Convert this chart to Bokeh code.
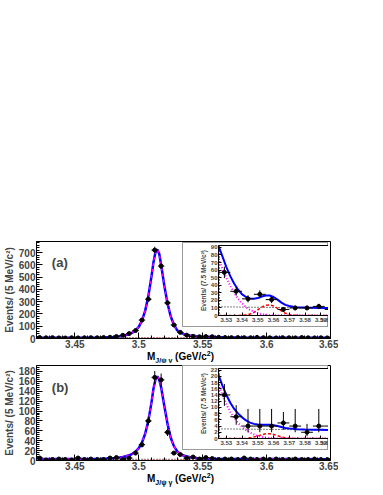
import numpy as np
from bokeh.plotting import figure
from bokeh.layouts import column
from bokeh.models import Spacer, FixedTicker, Label, Range1d, Div
from bokeh.embed import file_html
from bokeh.resources import INLINE

FONT = "Liberation Sans"

# ---------------- main panels: 5 MeV bins ----------------
bin_centers = 3.4225 + 0.005 * np.arange(46)
counts_a = [8, 6, 7, 5, 4, 6, 5, 6, 7, 6,
            8, 10, 16, 26, 40, 65, 150, 320, 720, 590,
            290, 110, 50, 27, 18, 14, 16, 15, 10, 8,
            7, 8, 7, 6, 9, 7, 6, 5, 7, 6,
            5, 8, 6, 5, 6, 5]
counts_b = [5, 1, 2, 3, 2, 1, 5, 2, 3, 2,
            2, 5, 6, 2, 5, 15, 32, 80, 168, 163,
            57, 15, 12, 5, 7, 3, 6, 4, 2, 3,
            3, 2, 5, 3, 2, 3, 2, 3, 2, 2,
            3, 2, 2, 3, 2, 2]

curve_x = [3.42, 3.43, 3.44, 3.45, 3.46, 3.47, 3.475, 3.48, 3.4825, 3.485,
           3.4875, 3.49, 3.4925, 3.495, 3.4975, 3.5, 3.5025, 3.505, 3.5075, 3.51,
           3.5115, 3.513, 3.5145, 3.516, 3.5175, 3.52, 3.5225, 3.525, 3.5275, 3.53,
           3.5325, 3.535, 3.54, 3.545, 3.55, 3.555, 3.56, 3.57, 3.58, 3.6,
           3.62, 3.65]
fit_a = [6, 6, 6, 6.5, 7, 8.5, 10, 13, 15, 18,
         22, 28, 36, 48, 66, 95, 145, 225, 345, 510,
         620, 700, 725, 690, 600, 430, 285, 180, 112, 68,
         48, 37, 25, 18, 15, 14, 12, 9, 8, 7,
         6.5, 6]
fit_b = [3, 3, 3, 3, 3.2, 3.6, 4, 4.8, 5.3, 6,
         7, 8.5, 10.5, 13.5, 18, 25, 36, 54, 80, 118,
         145, 163, 170, 164, 148, 110, 74, 46, 29, 19,
         13, 10, 6.5, 5, 4.2, 4, 3.6, 3.2, 3, 2.9,
         2.8, 2.7]
c2_x = [3.42, 3.54, 3.545, 3.55, 3.555, 3.56, 3.565, 3.57, 3.65]
c2_a = [0, 0, 1.5, 5, 9, 7, 3, 0.5, 0]
c2_b = [0, 0, 0.2, 0.6, 1.0, 0.8, 0.3, 0.05, 0]
bkg_x = [3.42, 3.65]
bkg_a = [6.5, 5.5]
bkg_b = [2.6, 2.4]

main_xticks = [3.45, 3.5, 3.55, 3.6, 3.65]
main_xlabels = ["3.45", "3.5", "3.55", "3.6", "3.65"]
yticks_a = [0, 100, 200, 300, 400, 500, 600, 700]
yticks_b = [0, 20, 40, 60, 80, 100, 120, 140, 160, 180]

# ---------------- insets: 7.5 MeV bins ----------------
ibin_centers = 3.52875 + 0.0075 * np.arange(10)
icounts_a = [57, 32, 22, 28, 21, 8, 10, 10, 12, 8]
icounts_b = [14, 7, 4, 4, 4, 5, 4, 2, 4, 4]
ierr_hi_b = [3.5, 3.7, 5.5, 5.5, 5.5, 3.5, 5.5, 2.7, 5.5, 5.5]
ierr_lo_b = [3.5, 2.6, 2.0, 2.0, 2.0, 2.2, 2.0, 1.3, 2.0, 2.0]

icurve_x = [3.525, 3.5275, 3.53, 3.5325, 3.535, 3.5375, 3.54, 3.5425, 3.545, 3.5475,
            3.55, 3.5525, 3.555, 3.5575, 3.56, 3.5625, 3.565, 3.5675, 3.57, 3.5725,
            3.575, 3.58, 3.585, 3.59, 3.595, 3.6]
itotal_a = [92, 78, 64, 52, 42, 34, 28, 24.5, 22.5, 22,
            23, 25, 26.5, 26.5, 24.5, 21, 17, 14, 12.5, 11.5,
            11, 10.6, 10.3, 10, 9.8, 9.6]
ichic1_a = [75, 62, 50, 39, 30, 22, 16, 11, 7.5, 5,
            3, 1.8, 1, 0.6, 0.3, 0.1, 0, 0, 0, 0,
            0, 0, 0, 0, 0, 0]
ichic2_a = [0, 0, 0, 0, 0, 0, 0.3, 1, 2, 4,
            7.5, 11, 13.5, 14, 12.5, 9.5, 6, 3, 1.3, 0.5,
            0.2, 0, 0, 0, 0, 0]
itotal_b = [20.5, 17, 14, 11.5, 9.5, 8, 6.8, 5.8, 5.1, 4.7,
            4.5, 4.4, 4.4, 4.4, 4.3, 4.0, 3.7, 3.4, 3.2, 3.1,
            3.0, 2.9, 2.85, 2.8, 2.75, 2.7]
ichic1_b = [17.5, 14, 11, 8.5, 6.5, 5, 3.7, 2.7, 1.9, 1.3,
            0.8, 0.5, 0.3, 0.15, 0.1, 0, 0, 0, 0, 0,
            0, 0, 0, 0, 0, 0]
ichic2_b = [0, 0, 0, 0, 0, 0, 0, 0, 0.2, 0.5,
            0.8, 1.2, 1.5, 1.5, 1.3, 0.9, 0.5, 0.25, 0.15, 0.05,
            0, 0, 0, 0, 0, 0]
ibkg_x = [3.525, 3.6]
ibkg_a = [11.5, 9.6]
ibkg_b = [3.1, 2.7]

inset_xticks = [3.53, 3.54, 3.55, 3.56, 3.57, 3.58, 3.59, 3.6]
inset_xlabels = ["3.53", "3.54", "3.55", "3.56", "3.57", "3.58", "3.59", "3.6"]
iyticks_a = [0, 10, 20, 30, 40, 50, 60, 70, 80, 90]
iyticks_b = [0, 2, 4, 6, 8, 10, 12, 14, 16, 18, 20, 22]

XTITLE = ('<span style="font-family:\'Liberation Sans\';font-weight:bold;font-size:10px;'
          'white-space:nowrap;line-height:14px;color:black">M<sub style="font-size:7px">J/ψ γ</sub>'
          ' (GeV/c<sup style="font-size:7px">2</sup>)</span>')


def style(p, fs, tick_in, minor_in):
    p.grid.visible = False
    p.background_fill_color = "white"
    p.border_fill_color = "white"
    p.outline_line_color = "black"
    p.outline_line_width = 1
    for ax in (p.xaxis[0], p.yaxis[0]):
        ax.axis_line_color = "black"
        ax.major_tick_in = tick_in
        ax.major_tick_out = 0
        ax.minor_tick_in = minor_in
        ax.minor_tick_out = 0
        ax.major_tick_line_color = "black"
        ax.minor_tick_line_color = "black"
        ax.major_label_text_font = FONT
        ax.major_label_text_font_style = "bold"
        ax.major_label_text_font_size = fs
        ax.major_label_standoff = 1
        ax.axis_label_text_font = FONT
        ax.axis_label_text_font_style = "bold"
        ax.axis_label_text_font_size = fs
        ax.axis_label_standoff = 1


def main_panel(counts, fit, c2, bkg, ymax, yticks, yminor, tag, tag_y, top, fh):
    p = figure(frame_width=294, frame_height=fh,
               x_range=Range1d(3.42, 3.65), y_range=Range1d(0, ymax),
               output_backend="svg", toolbar_location=None,
               min_border_left=32, min_border_right=8,
               min_border_top=top, min_border_bottom=24)
    style(p, "10px", 6, 3)
    p.xaxis.ticker = FixedTicker(ticks=main_xticks,
                                 minor_ticks=list(np.round(np.arange(3.42, 3.6501, 0.01), 3)))
    p.xaxis.major_label_overrides = dict(zip(main_xticks, main_xlabels))
    p.yaxis.ticker = FixedTicker(ticks=yticks, minor_ticks=yminor)
    p.yaxis.axis_label = "Events/ (5 MeV/c²)"

    p.line(bkg_x, bkg, line_color="black", line_dash="1 2", line_width=1)
    p.line(c2_x, c2, line_color="red", line_dash="3 2", line_width=1.5)
    p.line(curve_x, fit, line_color="blue", line_width=2.5)
    p.line(curve_x, fit, line_color="#ff00ff", line_dash="3 3", line_width=1.5)

    y = np.array(counts, dtype=float)
    e = np.sqrt(y)
    x = bin_centers
    p.segment(x0=x - 0.0025, x1=x + 0.0025, y0=y, y1=y, line_color="black", line_width=1)
    p.segment(x0=x, x1=x, y0=y - e, y1=y + e, line_color="black", line_width=1)
    p.scatter(x, y, size=4, color="black")

    p.add_layout(Label(x=3.432, y=tag_y, text=tag, text_font=FONT, text_font_style="bold",
                       text_font_size="13px", text_baseline="middle", text_align="left"))
    return p


def inset_panel(counts, err_lo, err_hi, total, chic1, chic2, bkg, ymax, yticks, yminor, margin):
    p = figure(frame_width=118, frame_height=70,
               x_range=Range1d(3.525, 3.6), y_range=Range1d(0, ymax),
               output_backend="svg", toolbar_location=None,
               min_border_left=25, min_border_right=3, min_border_top=3,
               min_border_bottom=12, margin=margin,
               styles={"outline": "1px solid #9a9a9a", "outline-offset": "-1px"})
    style(p, "6px", 3, 1)
    p.border_fill_alpha = 0
    p.xaxis.ticker = FixedTicker(ticks=inset_xticks,
                                 minor_ticks=list(np.round(np.arange(3.525, 3.6001, 0.005), 4)))
    p.xaxis.major_label_overrides = dict(zip(inset_xticks, inset_xlabels))
    p.yaxis.ticker = FixedTicker(ticks=yticks, minor_ticks=yminor)
    p.yaxis.axis_label = "Events/ (7.5 MeV/c²)"
    p.yaxis.axis_label_text_font_size = "6.5px"
    p.xaxis.major_label_standoff = 2

    p.line(ibkg_x, bkg, line_color="black", line_dash="1 2", line_width=1)
    p.line(icurve_x, chic2, line_color="red", line_dash="3 2", line_width=1.5)
    p.line(icurve_x, chic1, line_color="#ff00ff", line_dash="1 2", line_width=2)
    p.line(icurve_x, total, line_color="blue", line_width=2)

    y = np.array(counts, dtype=float)
    x = ibin_centers
    lo = np.array(err_lo)
    hi = np.array(err_hi)
    p.segment(x0=x - 0.00375, x1=x + 0.00375, y0=y, y1=y, line_color="black", line_width=1)
    p.segment(x0=x, x1=x, y0=y - lo, y1=y + hi, line_color="black", line_width=1)
    p.scatter(x, y, size=4, color="black")
    return p


pa = main_panel(counts_a, fit_a, c2_a, bkg_a, 790, yticks_a, list(range(0, 790, 20)),
                "(a)", 620, 4, 97)
pb = main_panel(counts_b, fit_b, c2_b, bkg_b, 192, yticks_b, list(range(0, 192, 4)),
                "(b)", 147, 3, 95)

ea = np.sqrt(np.array(icounts_a, dtype=float))
ia = inset_panel(icounts_a, ea, ea, itotal_a, ichic1_a, ichic2_a, ibkg_a, 92.5,
                 iyticks_a, list(range(0, 93, 2)), (-120, 0, 20, 182))
ib = inset_panel(icounts_b, ierr_lo_b, ierr_hi_b, itotal_b, ichic1_b, ichic2_b, ibkg_b, 22.5,
                 iyticks_b, [v * 0.5 for v in range(0, 46)], (-119, 0, 19, 182))

ta = Div(text=XTITLE, width=110, height=14, margin=(0, 0, 1, 147))
tb = Div(text=XTITLE, width=110, height=14, margin=(0, 0, 0, 147))

layout = column(Spacer(width=340, height=237), pa, ia, ta, pb, ib, tb)
open("out.html", "w").write(file_html(layout, INLINE))
